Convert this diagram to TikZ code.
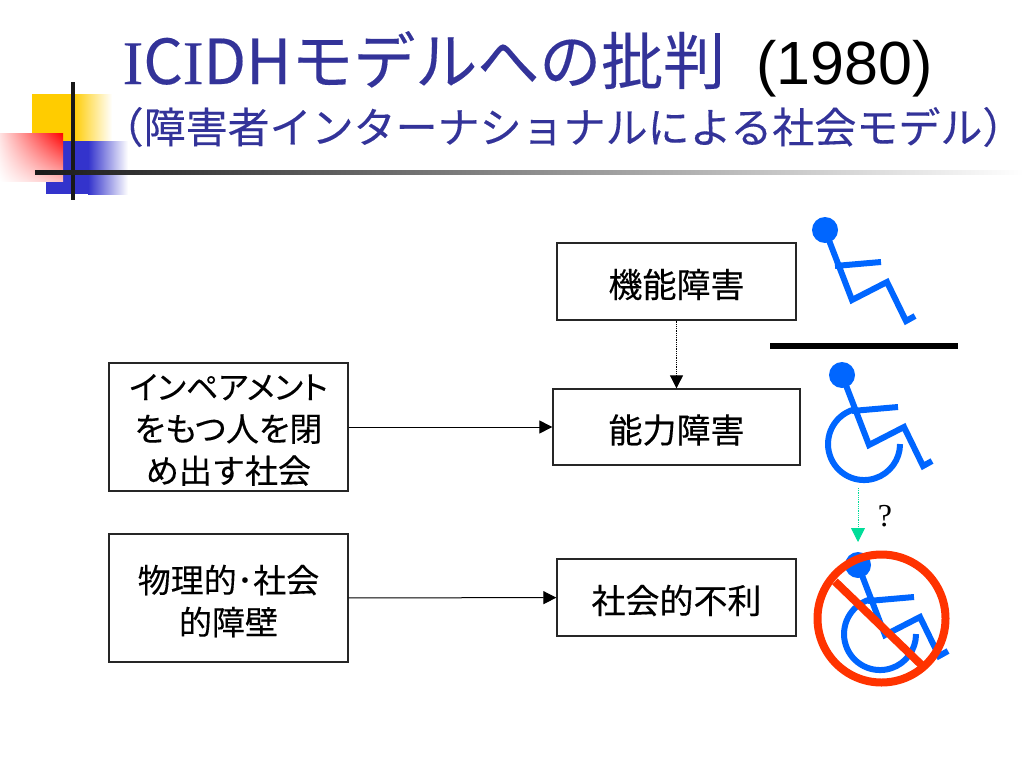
\documentclass[tikz,border=0pt]{standalone}
\usepackage{fontspec}
\usepackage{xcolor}
\usetikzlibrary{arrows.meta,shadings}
\newfontfamily\jpfont[FakeBold=0.25]{Noto Sans CJK JP}
\newfontfamily\jpprop[FakeBold=0.25,RawFeature=+palt]{Noto Sans CJK JP}
\newfontfamily\latinserif[FakeBold=0.3]{Liberation Serif}
\newfontfamily\arialfont{Liberation Sans}
\setmainfont{Liberation Serif}
\definecolor{titleblue}{HTML}{333399}
\definecolor{chairblue}{HTML}{0066FF}
\definecolor{stopred}{HTML}{FF3300}
\definecolor{askgreen}{HTML}{00DD99}
\definecolor{squareyellow}{HTML}{FFCC00}
\definecolor{squareblue}{HTML}{3333CC}
\tikzset{
every picture/.style={x=1pt, y=-1pt, line width=1.3pt},
%%%%%%%%%%  Node styles
titletext/.style={inner sep=0pt, anchor=base west, text=titleblue},
box/.style={draw=black!85, fill=white, inner sep=0pt, align=center,
            font=\jpfont\fontsize{34}{42}\selectfont},
small_box/.style={minimum width=239pt, minimum height=77pt},
wide_box/.style={minimum width=247pt, minimum height=76pt},
side_box/.style={minimum width=239pt, minimum height=128pt,
            font=\jpfont\fontsize{33}{42}\selectfont},
%%%% different line styles:
link/.style={line width=1pt, -{Triangle[length=13pt,width=13pt]}},
dotlink/.style={link, line width=0.8pt, densely dotted},
chair/.style={draw=chairblue, line width=6pt, line join=miter},
stopmark/.style={draw=stopred, line width=8pt},
}
%% text line set a little lower in its box
\newcommand{\lowline}[1]{\raisebox{-3pt}[\height][\depth]{#1}}
%% figure with its head at the origin
\newcommand{\chairman}{
	\fill[chairblue] (0,0) circle (13);
	\draw[chair] (0,0) -- (27,70) -- (62,52) -- (81,91) -- (90,86);
	\draw[chair] (10,36) -- (56,32);
}
\newcommand{\chairwheel}{
	\draw[chair] (10.9,34.8) arc[start angle=252, end angle=0, radius=36];
}
\begin{document}
\begin{tikzpicture}
\useasboundingbox (0,0) rectangle (1024,768);
%%corner squares
\fill[white] (0,0) rectangle (1024,768);
\fill[squareyellow] (32,94) rectangle (73,141);
\shade[left color=squareyellow, right color=white] (73,94) rectangle (112,141);
\fill[squareblue] (46,141) rectangle (88,194);
\shade[left color=squareblue, right color=white] (88,141) rectangle (128,194);
\shade[upper right=red, upper left=red!12, lower right=red!25, lower left=white]
	(0,133) rectangle (63,181);
%%rules
\draw[line width=4pt, black!90] (73,82) -- (73,200);
\shade[left color=black!90, right color=white] (35,170) rectangle (1024,174);
%%title
\node[titletext] (title) at (122,84) {\fontsize{62}{62}\selectfont{\latinserif I}\jpprop C{\latinserif I}DH\jpfont モデルへの批判};
\node[inner sep=0pt, anchor=base west] (year) at (756,84) {\arialfont\fontsize{61}{61}\selectfont (1980)};
\node[titletext] (subtitle) at (101,143) {\jpfont\fontsize{42}{42}\selectfont （障害者インターナショナルによる社会モデル）};
%%boxes
\node[box,small_box] (func) at (676.5,281.5) {\lowline{機能障害}};
\node[box,wide_box] (abil) at (676.5,427) {\lowline{能力障害}};
\node[box,small_box] (soci) at (676.5,597.5) {\lowline{社会的不利}};
\node[box,side_box] (shut) at (228.5,427) {\lowline{\jpprop\fontsize{32}{42}\selectfont インペアメント}\\\lowline{\jpprop をもつ人を閉}\\\lowline{め出す社会}};
\node[box,side_box] (wall) at (228.5,598) {\lowline{\jpprop 物理的･社会}\\\lowline{的障壁}};
%%arrows
\draw[link] (shut) -- (abil);
\draw[link] (wall) -- (soci);
\draw[dotlink] (func) -- (abil);
%%divider
\coordinate (barleft) at (770,346);
\coordinate (barright) at (958,346);
\draw[line width=6pt] (barleft) -- (barright);
%%figures
\begin{scope}[shift={(825,230)}]
	\chairman
\end{scope}
\begin{scope}[shift={(842,375)}]
	\chairman
	\chairwheel
\end{scope}
\begin{scope}[shift={(858,565)}]
	\chairman
	\chairwheel
\end{scope}
%%question
\coordinate (askfrom) at (858,488);
\coordinate (askto) at (858,542);
\draw[dotlink, askgreen, -{Triangle[length=14pt,width=14pt]}] (askfrom) -- (askto);
\node[inner sep=0pt] (ask) at (885,516) {\fontsize{32}{32}\selectfont ?};
%%prohibition sign
\coordinate (stopa) at (835,581.5);
\coordinate (stopb) at (921.5,665);
\draw[stopmark] (881.5,618.5) circle (64);
\draw[stopmark] (stopa) -- (stopb);
\end{tikzpicture}
\end{document}
